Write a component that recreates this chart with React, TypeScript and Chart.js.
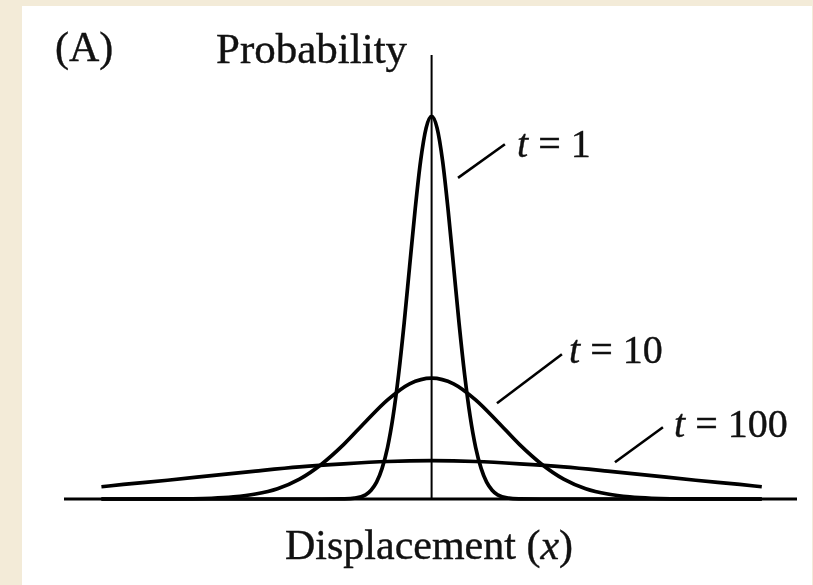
import React, { useEffect, useRef } from "react";
import { Chart, registerables } from "chart.js";

Chart.register(...registerables);

// Displacement in units of the t = 1 spread; probability relative to the t = 1 peak
const X_MIN = -16.7;
const X_MAX = 16.6;
const Y_MAX = 1.16;

const xT1 = [-15, -5, -4, -3.5, -3, -2.75, -2.5, -2.25, -2, -1.75, -1.5, -1.25, -1, -0.75, -0.5, -0.25, 0,
  0.25, 0.5, 0.75, 1, 1.25, 1.5, 1.75, 2, 2.25, 2.5, 2.75, 3, 3.5, 4, 5, 15];
const yT1 = [0, 0, 0.0003, 0.0022, 0.011, 0.023, 0.044, 0.08, 0.135, 0.216, 0.325, 0.458, 0.607, 0.755, 0.883, 0.969, 1,
  0.969, 0.883, 0.755, 0.607, 0.458, 0.325, 0.216, 0.135, 0.08, 0.044, 0.023, 0.011, 0.0022, 0.0003, 0, 0];

const xT10 = [-15, -12, -10, -9, -8, -7, -6, -5, -4, -3, -2, -1, 0, 1, 2, 3, 4, 5, 6, 7, 8, 9, 10, 12, 15];
const yT10 = [0, 0.0002, 0.002, 0.0055, 0.013, 0.027, 0.052, 0.091, 0.142, 0.202, 0.259, 0.301, 0.316,
  0.301, 0.259, 0.202, 0.142, 0.091, 0.052, 0.027, 0.013, 0.0055, 0.002, 0.0002, 0];

const xT100 = [-15, -14, -12, -10, -8, -6, -4, -2, 0, 2, 4, 6, 8, 10, 12, 14, 15];
const yT100 = [0.032, 0.038, 0.049, 0.061, 0.073, 0.084, 0.092, 0.098, 0.1, 0.098, 0.092, 0.084, 0.073, 0.061, 0.049, 0.038, 0.032];

// leader lines from each label to its curve (data units)
const leaderT1X = [1.2, 3.33];
const leaderT1Y = [0.839, 0.927];
const leaderT10X = [2.97, 5.92];
const leaderT10Y = [0.25, 0.378];
const leaderT100X = [8.33, 10.51];
const leaderT100Y = [0.096, 0.1875];

const pts = (xs: number[], ys: number[]) => xs.map((x, i) => ({ x, y: ys[i] }));

const BEIGE = "#f3ebd8";
const FONT = "'Liberation Serif', 'Times New Roman', serif";

export default function App() {
  const ref = useRef<HTMLCanvasElement>(null);

  useEffect(() => {
    if (!ref.current) return;
    const curve = (xs: number[], ys: number[]) => ({
      data: pts(xs, ys),
      borderColor: "#000",
      borderWidth: 3.7,
      pointRadius: 0,
      cubicInterpolationMode: "monotone" as const,
      fill: false,
      clip: false as any,
    });
    const straight = (xs: number[], ys: number[], w: number) => ({
      data: pts(xs, ys),
      borderColor: "#000",
      borderWidth: w,
      pointRadius: 0,
      tension: 0,
      fill: false,
      clip: false as any,
    });
    const chart = new Chart(ref.current, {
      type: "line",
      data: {
        datasets: [
          straight([X_MIN, X_MAX], [0, 0], 2.8),
          straight([0, 0], [0, Y_MAX], 2),
          curve(xT1, yT1),
          curve(xT10, yT10),
          curve(xT100, yT100),
          straight(leaderT1X, leaderT1Y, 2.6),
          straight(leaderT10X, leaderT10Y, 2.6),
          straight(leaderT100X, leaderT100Y, 2.6),
        ] as any,
      },
      options: {
        animation: false,
        responsive: false,
        devicePixelRatio: 1,
        events: [],
        layout: { padding: { left: 64, top: 55, right: 16, bottom: 86 } },
        plugins: { legend: { display: false }, tooltip: { enabled: false } },
        scales: {
          x: { type: "linear", min: X_MIN, max: X_MAX, display: false },
          y: { type: "linear", min: 0, max: Y_MAX, display: false },
        },
      },
    });
    return () => chart.destroy();
  }, []);

  const txt = (left: number, top: number, size: number): React.CSSProperties => ({
    position: "absolute",
    left,
    top,
    fontFamily: FONT,
    fontSize: size,
    lineHeight: 1,
    color: "#111",
    whiteSpace: "nowrap",
    WebkitTextStroke: "0.4px #111",
  });

  return (
    <div style={{ position: "fixed", left: 0, top: 0, width: 813, height: 585, background: BEIGE, overflow: "hidden" }}>
      <div style={{ position: "absolute", left: 22, top: 6, width: 790, height: 579, background: "#fff" }} />
      <canvas ref={ref} width={813} height={585} style={{ position: "absolute", left: 0, top: 0, width: 813, height: 585 }} />
      <div style={txt(55, 26, 42)}>(A)</div>
      <div style={txt(216, 27, 43)}>Probability</div>
      <div style={txt(517, 124, 40)}><i>t</i> = 1</div>
      <div style={txt(569, 330, 40)}><i>t</i> = 10</div>
      <div style={txt(674, 404, 40)}><i>t</i> = 100</div>
      <div style={txt(285, 524, 42)}>Displacement (<i>x</i>)</div>
    </div>
  );
}
